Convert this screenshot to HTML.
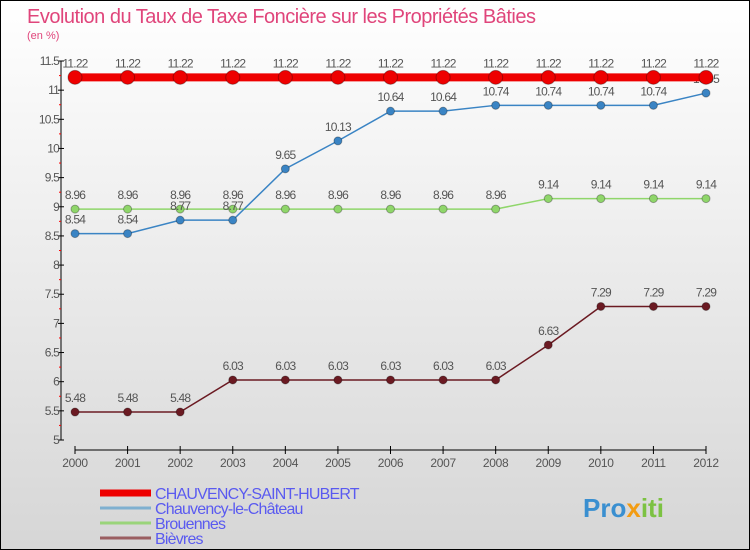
<!DOCTYPE html>
<html><head><meta charset="utf-8"><style>
body{margin:0}
svg{display:block;font-family:"Liberation Sans",sans-serif}
</style></head><body>
<svg width="750" height="550" viewBox="0 0 750 550">
<defs><linearGradient id="bg" x1="0" y1="0" x2="0" y2="1"><stop offset="0" stop-color="#ffffff"/><stop offset="1" stop-color="#d6d6d6"/></linearGradient></defs>
<rect x="0.5" y="0.5" width="749" height="549" fill="url(#bg)" stroke="#000"/>
<text x="27" y="23" font-size="20" fill="#e0457b" letter-spacing="-0.5">Evolution du Taux de Taxe Foncière sur les Propriétés Bâties</text>
<text x="27" y="39" font-size="11" fill="#e0457b">(en %)</text>
<g id="axes"></g>
<g id="series"></g>
<g id="legend"></g>
<text x="583" y="517" font-size="26" font-weight="bold" fill="#3a8fd0">Pro<tspan fill="#f39c12">x</tspan><tspan fill="#7cc242">iti</tspan></text>
</svg>
<script>
const years=["2000","2001","2002","2003","2004","2005","2006","2007","2008","2009","2010","2011","2012"];
const yTicks=[5,5.5,6,6.5,7,7.5,8,8.5,9,9.5,10,10.5,11,11.5];
const chauvencySH=[11.22,11.22,11.22,11.22,11.22,11.22,11.22,11.22,11.22,11.22,11.22,11.22,11.22];
const chauvencyC=[8.54,8.54,8.77,8.77,9.65,10.13,10.64,10.64,10.74,10.74,10.74,10.74,10.95];
const brouennes=[8.96,8.96,8.96,8.96,8.96,8.96,8.96,8.96,8.96,9.14,9.14,9.14,9.14];
const bievres=[5.48,5.48,5.48,6.03,6.03,6.03,6.03,6.03,6.03,6.63,7.29,7.29,7.29];
const seriesNames=["CHAUVENCY-SAINT-HUBERT","Chauvency-le-Château","Brouennes","Bièvres"];
const NS="http://www.w3.org/2000/svg";
const X=i=>75+i*(706-75)/(years.length-1);
const Y=v=>440-(v-5)*(440-61)/6.5;
function mk(t,a,p,name){const e=document.createElementNS(NS,t);for(const k in a)e.setAttribute(k,a[k]);


p.appendChild(e);return e;}
const ax=document.getElementById('axes');
mk('line',{x1:61,y1:Y(11.5),x2:61,y2:Y(5),stroke:'#000'},ax,'y-axis');
yTicks.forEach((v,i)=>{const y=Y(v);
mk('line',{x1:58,y1:y,x2:64,y2:y,stroke:'#000'},ax,'y-tick');
if(i<yTicks.length-1)mk('line',{x1:59,y1:y-(Y(5)-Y(5.5))/2,x2:61,y2:y-(Y(5)-Y(5.5))/2,stroke:'#f00'},ax,'y-minor-tick');
const t=mk('text',{x:59,y:y+4,'font-size':12,fill:'#555','text-anchor':'end','letter-spacing':'-0.8'},ax,'y-tick-label');t.textContent=v;});
mk('line',{x1:75,y1:450,x2:706,y2:450,stroke:'#000'},ax,'x-axis');
years.forEach((yr,i)=>{mk('line',{x1:X(i),y1:446,x2:X(i),y2:454,stroke:'#000'},ax,'x-tick');
const t=mk('text',{x:X(i),y:467,'font-size':12,fill:'#555','text-anchor':'middle','letter-spacing':'-0.3'},ax,'x-tick-label');t.textContent=yr;});
const sg=document.getElementById('series');
function draw(data,color,sw,r,name){
mk('polyline',{points:data.map((v,i)=>X(i)+','+Y(v)).join(' '),fill:'none',stroke:color,'stroke-width':sw},sg,name+'-line');
data.forEach((v,i)=>{mk('circle',{cx:X(i),cy:Y(v),r:r,fill:color,stroke:'rgba(0,0,0,0.3)'},sg,name+'-point');
const t=mk('text',{x:X(i),y:Y(v)-10,'font-size':12,fill:'#555','text-anchor':'middle','letter-spacing':'-0.8'},sg,name+'-value');t.textContent=v;});}
draw(bievres,'#6b1a22',1.5,4,'bievres');
draw(brouennes,'#8fd66a',1.5,4,'brouennes');
draw(chauvencyC,'#3a84c4',1.5,4,'chauvency-le-chateau');
draw(chauvencySH,'#ee0000',8,7,'chauvency-saint-hubert');
const lg=document.getElementById('legend');
const lc=['#ee0000','#7fb0d0','#9ad47a','#9a5e60'],lw=[7,3,3,3];
seriesNames.forEach((n,i)=>{const y=493+i*15;
mk('line',{x1:100,y1:y,x2:151,y2:y,stroke:lc[i],'stroke-width':lw[i]},lg,'legend-swatch');
const t=mk('text',{x:155,y:y+6,'font-size':16,fill:'#5a5af0','letter-spacing':'-0.8'},lg,'legend-entry');t.textContent=n;});
</script>
</body></html>
